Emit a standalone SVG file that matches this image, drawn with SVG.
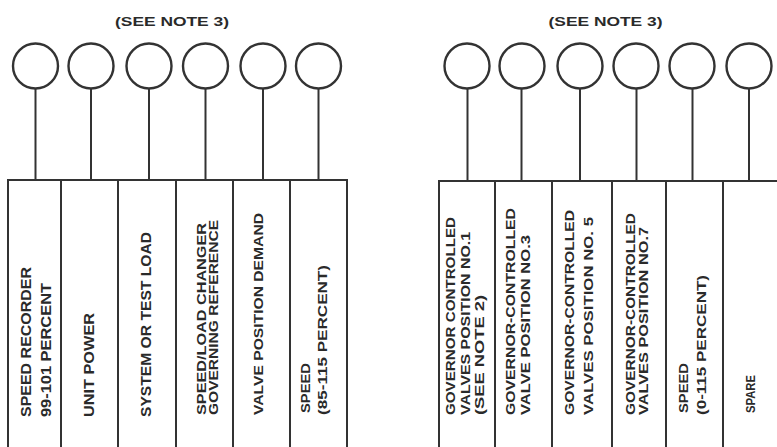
<svg xmlns="http://www.w3.org/2000/svg" width="777" height="447" viewBox="0 0 777 447">
<style>
.bg{fill:#ffffff}
.ind{fill:none;stroke:#333;stroke-width:2.4}
.cell{fill:none;stroke:#333;stroke-width:2}
.stem{stroke:#333;stroke-width:2;fill:none}
.t{font-family:"Liberation Sans",Arial,sans-serif;font-weight:bold;fill:#2a2a2a;font-size:14px}
.s{font-size:12.5px}
.m{font-size:13px}
.note{font-family:"Liberation Sans",Arial,sans-serif;font-weight:bold;fill:#2a2a2a;font-size:13.5px}
</style>
<rect class="bg" x="0" y="0" width="777" height="447"/>
<text class="note" x="172" y="25.5" text-anchor="middle" textLength="114" lengthAdjust="spacingAndGlyphs">(SEE NOTE 3)</text>
<text class="note" x="605.5" y="25.5" text-anchor="middle" textLength="114" lengthAdjust="spacingAndGlyphs">(SEE NOTE 3)</text>

<g id="connectors">
<line class="stem" x1="35.5" y1="88.5" x2="35.5" y2="180"/>
<line class="stem" x1="91" y1="88.5" x2="91" y2="180"/>
<line class="stem" x1="149" y1="88.5" x2="149" y2="180"/>
<line class="stem" x1="205.5" y1="88.5" x2="205.5" y2="180"/>
<line class="stem" x1="263" y1="88.5" x2="263" y2="180"/>
<line class="stem" x1="318.5" y1="88.5" x2="318.5" y2="180"/>
<line class="stem" x1="467.5" y1="88.5" x2="467.5" y2="181"/>
<line class="stem" x1="521.5" y1="88.5" x2="521.5" y2="181"/>
<line class="stem" x1="580" y1="88.5" x2="580" y2="181"/>
<line class="stem" x1="636.5" y1="88.5" x2="636.5" y2="181"/>
<line class="stem" x1="692.5" y1="88.5" x2="692.5" y2="181"/>
<line class="stem" x1="749" y1="88.5" x2="749" y2="181"/>
</g>

<g id="ind-L1"><circle class="ind" cx="35.5" cy="66" r="22.5"/></g>
<g id="ind-L2"><circle class="ind" cx="91" cy="66" r="22.5"/></g>
<g id="ind-L3"><circle class="ind" cx="149" cy="66" r="22.5"/></g>
<g id="ind-L4"><circle class="ind" cx="205.5" cy="66" r="22.5"/></g>
<g id="ind-L5"><circle class="ind" cx="263" cy="66" r="22.5"/></g>
<g id="ind-L6"><circle class="ind" cx="318.5" cy="66" r="22.5"/></g>
<g id="ind-R1"><circle class="ind" cx="467" cy="66" r="22.5"/></g>
<g id="ind-R2"><circle class="ind" cx="522" cy="66" r="22.5"/></g>
<g id="ind-R3"><circle class="ind" cx="580" cy="66" r="22.5"/></g>
<g id="ind-R4"><circle class="ind" cx="636" cy="66" r="22.5"/></g>
<g id="ind-R5"><circle class="ind" cx="692" cy="66" r="22.5"/></g>
<g id="ind-R6"><circle class="ind" cx="749" cy="66" r="22.5"/></g>

<g id="cell-L1">
<rect class="cell" x="8" y="180" width="53" height="290"/>
<text class="t" transform="translate(30.5,417) rotate(-90)" textLength="150" lengthAdjust="spacingAndGlyphs">SPEED RECORDER</text>
<text class="t" transform="translate(50.5,417) rotate(-90)" textLength="134" lengthAdjust="spacingAndGlyphs">99-101 PERCENT</text>
</g>
<g id="cell-L2">
<rect class="cell" x="61" y="180" width="57" height="290"/>
<text class="t" transform="translate(93.5,417) rotate(-90)" textLength="104" lengthAdjust="spacingAndGlyphs">UNIT  POWER</text>
</g>
<g id="cell-L3">
<rect class="cell" x="118" y="180" width="58" height="290"/>
<text class="t" transform="translate(150.5,417) rotate(-90)" textLength="185" lengthAdjust="spacingAndGlyphs">SYSTEM OR TEST LOAD</text>
</g>
<g id="cell-L4">
<rect class="cell" x="176" y="180" width="57" height="290"/>
<text class="t s" transform="translate(206,415) rotate(-90)" textLength="192" lengthAdjust="spacingAndGlyphs">SPEED/LOAD CHANGER</text>
<text class="t s" transform="translate(218,415) rotate(-90)" textLength="195" lengthAdjust="spacingAndGlyphs">GOVERNING  REFERENCE</text>
</g>
<g id="cell-L5">
<rect class="cell" x="233" y="180" width="57" height="290"/>
<text class="t m" transform="translate(263,415) rotate(-90)" textLength="202" lengthAdjust="spacingAndGlyphs">VALVE POSITION DEMAND</text>
</g>
<g id="cell-L6">
<rect class="cell" x="290" y="180" width="57" height="290"/>
<text class="t m" transform="translate(310,413) rotate(-90)" textLength="50" lengthAdjust="spacingAndGlyphs">SPEED</text>
<text class="t m" transform="translate(327,415) rotate(-90)" textLength="150" lengthAdjust="spacingAndGlyphs">(85-115 PERCENT)</text>
</g>

<g id="cell-R1">
<rect class="cell" x="439" y="181" width="56" height="290"/>
<text class="t s" transform="translate(455,415) rotate(-90)" textLength="198" lengthAdjust="spacingAndGlyphs">GOVERNOR  CONTROLLED</text>
<text class="t s" transform="translate(470,415) rotate(-90)" textLength="183" lengthAdjust="spacingAndGlyphs">VALVES POSITION NO.1</text>
<text class="t s" transform="translate(484,415) rotate(-90)" textLength="120" lengthAdjust="spacingAndGlyphs">(SEE  NOTE  2)</text>
</g>
<g id="cell-R2">
<rect class="cell" x="495" y="181" width="57" height="290"/>
<text class="t s" transform="translate(515,415) rotate(-90)" textLength="207" lengthAdjust="spacingAndGlyphs">GOVERNOR-CONTROLLED</text>
<text class="t s" transform="translate(530,415) rotate(-90)" textLength="180" lengthAdjust="spacingAndGlyphs">VALVE POSITION NO.3</text>
</g>
<g id="cell-R3">
<rect class="cell" x="552" y="181" width="60" height="290"/>
<text class="t s" transform="translate(574,415) rotate(-90)" textLength="205" lengthAdjust="spacingAndGlyphs">GOVERNOR-CONTROLLED</text>
<text class="t s" transform="translate(593,415) rotate(-90)" textLength="198" lengthAdjust="spacingAndGlyphs">VALVES  POSITION  NO. 5</text>
</g>
<g id="cell-R4">
<rect class="cell" x="612" y="181" width="54" height="290"/>
<text class="t s" transform="translate(635,415) rotate(-90)" textLength="202" lengthAdjust="spacingAndGlyphs">GOVERNOR-CONTROLLED</text>
<text class="t s" transform="translate(648,415) rotate(-90)" textLength="188" lengthAdjust="spacingAndGlyphs">VALVES  POSITION  NO.7</text>
</g>
<g id="cell-R5">
<rect class="cell" x="666" y="181" width="57" height="290"/>
<text class="t m" transform="translate(688,413) rotate(-90)" textLength="50" lengthAdjust="spacingAndGlyphs">SPEED</text>
<text class="t m" transform="translate(706,415) rotate(-90)" textLength="140" lengthAdjust="spacingAndGlyphs">(0-115 PERCENT)</text>
</g>
<g id="cell-R6">
<rect class="cell" x="723" y="181" width="56" height="290"/>
<text class="t m" transform="translate(755,413) rotate(-90)" textLength="38" lengthAdjust="spacingAndGlyphs">SPARE</text>
</g>
</svg>
